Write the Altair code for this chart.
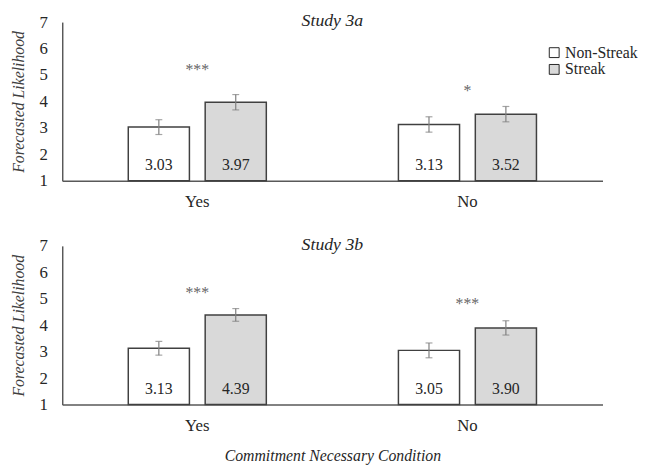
import altair as alt
import pandas as pd

conditions = ["Yes", "No"]
series = ["Non-Streak", "Streak"]

a_nonstreak = [3.03, 3.13]
a_streak = [3.97, 3.52]
a_err_nonstreak = [0.28, 0.29]
a_err_streak = [0.29, 0.29]
a_stars = ["***", "*"]
a_star_y = [5.2, 4.4]

b_nonstreak = [3.13, 3.05]
b_streak = [4.39, 3.90]
b_err_nonstreak = [0.26, 0.28]
b_err_streak = [0.24, 0.27]
b_stars = ["***", "***"]
b_star_y = [5.2, 4.8]

y_ticks = [1, 2, 3, 4, 5, 6, 7]

SERIF = "Liberation Serif"
AXIS_COLOR = "#595959"
TEXT_COLOR = "#262626"


def panel(ns, s, ens, es, stars, star_y, title, show_legend, x_title):
    rows = []
    for i, c in enumerate(conditions):
        rows.append({"cond": c, "series": series[0], "value": ns[i],
                     "lo": ns[i] - ens[i], "hi": ns[i] + ens[i], "base": 1})
        rows.append({"cond": c, "series": series[1], "value": s[i],
                     "lo": s[i] - es[i], "hi": s[i] + es[i], "base": 1})
    df = pd.DataFrame(rows)
    star_df = pd.DataFrame({"cond": conditions, "star": stars, "y": star_y})

    x_axis_kw = dict(labelAngle=0, ticks=False, grid=False, domainColor=AXIS_COLOR,
                     domainWidth=1.5, labelFont=SERIF, labelFontSize=17,
                     labelColor=TEXT_COLOR, labelPadding=13)
    if x_title:
        x_axis = alt.Axis(title=x_title, titleFont=SERIF, titleFontSize=16,
                          titleFontStyle="italic", titleFontWeight="normal",
                          titleColor=TEXT_COLOR, titlePadding=15, **x_axis_kw)
    else:
        x_axis = alt.Axis(title=None, **x_axis_kw)

    x = alt.X("cond:N", sort=conditions,
              scale=alt.Scale(paddingInner=0.489, paddingOuter=0.2445), axis=x_axis)
    xo = alt.XOffset("series:N", sort=series,
                     scale=alt.Scale(paddingInner=0.205, paddingOuter=0))
    y_scale = alt.Scale(domain=[1, 7], nice=False, zero=False)
    y_axis = alt.Axis(values=y_ticks, tickCount=7, ticks=False, grid=False,
                      labelOverlap=False, domainColor=AXIS_COLOR, domainWidth=1.5,
                      labelFont=SERIF, labelFontSize=17, labelColor=TEXT_COLOR,
                      labelPadding=15, title="Forecasted Likelihood",
                      titleFont=SERIF, titleFontSize=16, titleFontStyle="italic",
                      titleFontWeight="normal", titleColor="#404040",
                      titlePadding=13)

    if show_legend:
        legend = alt.Legend(title=None, orient="none", legendX=491, legendY=23,
                            symbolType="square", symbolSize=100,
                            symbolStrokeColor="#262626", symbolStrokeWidth=1,
                            labelFont=SERIF, labelFontSize=16, labelColor=TEXT_COLOR,
                            labelOffset=3, rowPadding=1)
    else:
        legend = None

    color = alt.Color("series:N", sort=series,
                      scale=alt.Scale(domain=series, range=["#ffffff", "#d9d9d9"]),
                      legend=legend)

    base = alt.Chart(df)
    bars = base.mark_bar(stroke="#404040", strokeWidth=1.5).encode(
        x=x, xOffset=xo, y=alt.Y("value:Q", scale=y_scale, axis=y_axis),
        y2=alt.Y2("base:Q"), fill=color)
    labels = base.mark_text(font=SERIF, fontSize=16, color=TEXT_COLOR, dy=-16,
                            baseline="middle").encode(
        x=x, xOffset=xo, y=alt.Y("base:Q", scale=y_scale, axis=y_axis),
        text=alt.Text("value:Q", format=".2f"))
    err = base.mark_rule(color="#7f7f7f", strokeWidth=1.2).encode(
        x=x, xOffset=xo, y=alt.Y("lo:Q", scale=y_scale, axis=y_axis), y2="hi:Q")
    cap_lo = base.mark_tick(color="#7f7f7f", thickness=1.2, size=7).encode(
        x=x, xOffset=xo, y=alt.Y("lo:Q", scale=y_scale, axis=y_axis))
    cap_hi = base.mark_tick(color="#7f7f7f", thickness=1.2, size=7).encode(
        x=x, xOffset=xo, y=alt.Y("hi:Q", scale=y_scale, axis=y_axis))
    star_text = alt.Chart(star_df).mark_text(font=SERIF, fontSize=16, color="#666666",
                                             baseline="middle").encode(
        x=x, y=alt.Y("y:Q", scale=y_scale, axis=y_axis), text="star:N")

    layer = alt.layer(bars, err, cap_lo, cap_hi, labels, star_text).properties(
        width=548, height=161,
        title=alt.Title(title, font=SERIF, fontSize=18, fontStyle="italic",
                        fontWeight="normal", color=TEXT_COLOR, anchor="middle",
                        baseline="middle", offset=-8, dy=18))
    return layer


top = panel(a_nonstreak, a_streak, a_err_nonstreak, a_err_streak, a_stars, a_star_y,
            "Study 3a", True, None)
bottom = panel(b_nonstreak, b_streak, b_err_nonstreak, b_err_streak, b_stars, b_star_y,
               "Study 3b", False, "Commitment Necessary Condition")

chart = alt.vconcat(top, bottom, spacing=66, bounds="flush").resolve_legend(
    fill="independent").properties(
    padding={"left": 2, "top": 1, "right": 0, "bottom": 0}
).configure(background="white").configure_view(stroke=None)

chart.save("out.html", embed_options={"renderer": "svg", "actions": False})
